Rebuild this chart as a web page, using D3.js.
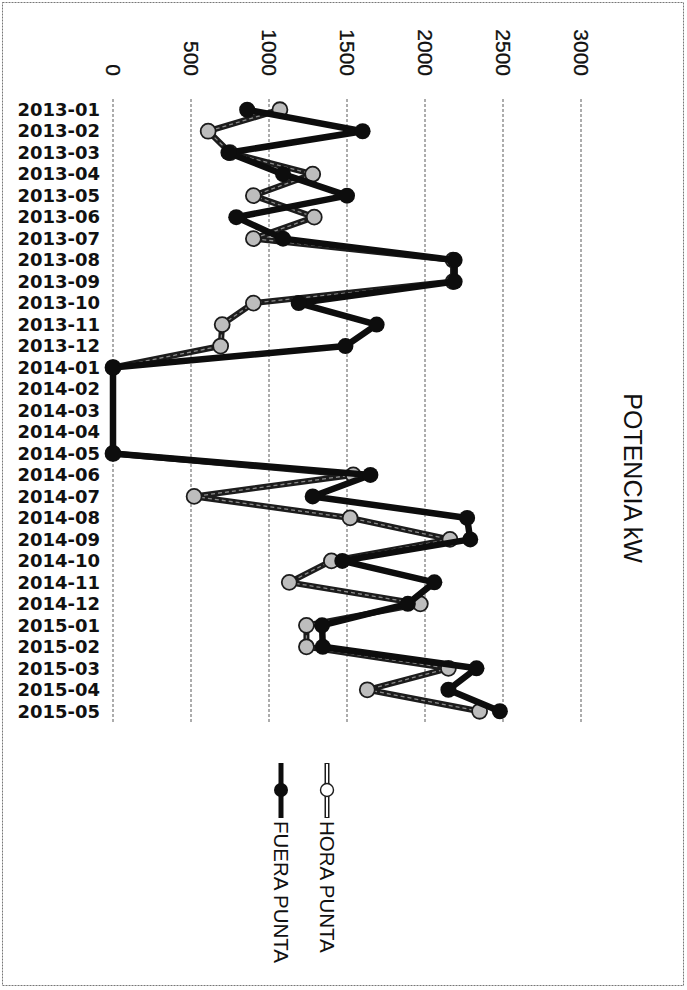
<!DOCTYPE html>
<html>
<head>
<meta charset="utf-8">
<script src="https://cdn.jsdelivr.net/npm/d3@7"></script>
<style>
  html, body { margin: 0; padding: 0; background: #fff; }
  svg { display: block; }
  text { font-family: "Liberation Sans", Arial, sans-serif; fill: #111; }
</style>
</head>
<body>
<svg id="chart" width="687" height="990"></svg>
<script>
// Monthly demand (kW), peak and off-peak; Feb–Apr 2014 have no readings.
const months = [
  "2013-01","2013-02","2013-03","2013-04","2013-05","2013-06","2013-07","2013-08",
  "2013-09","2013-10","2013-11","2013-12","2014-01","2014-02","2014-03","2014-04",
  "2014-05","2014-06","2014-07","2014-08","2014-09","2014-10","2014-11","2014-12",
  "2015-01","2015-02","2015-03","2015-04","2015-05"
];
const horaPunta = [
  1070, 610, 750, 1280, 900, 1290, 900, 2180,
  2180, 900, 700, 690, 0, null, null, null,
  0, 1540, 520, 1520, 2160, 1400, 1130, 1970,
  1240, 1240, 2150, 1630, 2350
];
const fueraPunta = [
  860, 1600, 740, 1090, 1500, 790, 1090, 2190,
  2190, 1190, 1690, 1490, 0, null, null, null,
  0, 1650, 1280, 2270, 2290, 1470, 2060, 1890,
  1340, 1345, 2330, 2150, 2480
];
const valueTicks = [0, 500, 1000, 1500, 2000, 2500, 3000];
const seriesNames = ["HORA PUNTA", "FUERA PUNTA"];
const titleText = "POTENCIA kW";

const svg = d3.select("#chart");

// Frame
svg.append("rect")
  .attr("x", 2.5).attr("y", 2.5).attr("width", 681).attr("height", 983)
  .attr("fill", "none").attr("stroke", "#777").attr("stroke-width", 1)
  .attr("stroke-dasharray", "2,1");

// Scales: values run left→right, months top→bottom
const x = d3.scaleLinear().domain([0, 3000]).range([113, 581]);
const y = d3.scalePoint().domain(months).range([99, 722]).padding(0.5);

// Gridlines
svg.append("g").selectAll("line")
  .data(valueTicks)
  .join("line")
  .attr("x1", d => x(d)).attr("x2", d => x(d))
  .attr("y1", 99).attr("y2", 722)
  .attr("stroke", "#5a5a5a").attr("stroke-width", 1)
  .attr("stroke-dasharray", "3,2");

// Value axis (labels rotated)
const xAxis = svg.append("g")
  .attr("transform", "translate(0,76)")
  .call(d3.axisTop(x).tickValues(valueTicks).tickSize(0).tickPadding(0).tickFormat(d3.format("d")));
xAxis.select(".domain").remove();
xAxis.selectAll("text")
  .attr("x", 0).attr("y", 0).attr("dy", null)
  .attr("transform", "rotate(90)")
  .attr("text-anchor", "end")
  .attr("dominant-baseline", "central")
  .style("font-size", "21px")
  .style("font-family", "'Liberation Sans', Arial, sans-serif")
  .style("fill", "#111")
  .style("stroke", "#111").style("stroke-width", "0.3px");

// Category axis
const yAxis = svg.append("g")
  .attr("transform", "translate(113,0)")
  .call(d3.axisLeft(y).tickSize(0).tickPadding(13));
yAxis.select(".domain").remove();
yAxis.selectAll("text")
  .style("font-size", "18px")
  .style("font-family", "'DejaVu Sans', sans-serif")
  .style("font-weight", "bold")
  .style("fill", "#111");

// Series
const toPoints = vals => months.map((m, i) => ({ m, v: vals[i] })).filter(d => d.v !== null);
const line = d3.line().x(d => x(d.v)).y(d => y(d.m));

const hp = toPoints(horaPunta);
const fp = toPoints(fueraPunta);

// Peak-hour series: pale line with dark edges
svg.append("path").datum(hp)
  .attr("d", line).attr("fill", "none")
  .attr("stroke", "#1c1c1c").attr("stroke-width", 6).attr("stroke-linejoin", "round");
svg.append("path").datum(hp)
  .attr("d", line).attr("fill", "none")
  .attr("stroke", "#8a8a8a").attr("stroke-width", 1.3).attr("stroke-linejoin", "round")
  .attr("stroke-dasharray", "4,3");
svg.append("g").selectAll("circle")
  .data(hp).join("circle")
  .attr("cx", d => x(d.v)).attr("cy", d => y(d.m)).attr("r", 7.5)
  .attr("fill", "#bdbdbd").attr("stroke", "#1c1c1c").attr("stroke-width", 1.8);

// Off-peak series: solid black
svg.append("path").datum(fp)
  .attr("d", line).attr("fill", "none")
  .attr("stroke", "#0d0d0d").attr("stroke-width", 6.5).attr("stroke-linejoin", "round");
svg.append("g").selectAll("circle")
  .data(fp).join("circle")
  .attr("cx", d => x(d.v)).attr("cy", d => y(d.m)).attr("r", 8)
  .attr("fill", "#0d0d0d");

// Title
svg.append("text")
  .attr("transform", "translate(633,478) rotate(90)")
  .attr("text-anchor", "middle").attr("dominant-baseline", "central")
  .style("font-size", "25px")
  .text(titleText);

// Legend
const legendX = [327, 281];
seriesNames.forEach((name, i) => {
  const lx = legendX[i];
  const g = svg.append("g");
  if (i === 0) {
    g.append("line").attr("x1", lx).attr("x2", lx).attr("y1", 763).attr("y2", 818)
      .attr("stroke", "#1c1c1c").attr("stroke-width", 5);
    g.append("line").attr("x1", lx).attr("x2", lx).attr("y1", 764).attr("y2", 817)
      .attr("stroke", "#fff").attr("stroke-width", 2);
    g.append("circle").attr("cx", lx).attr("cy", 790).attr("r", 6.5)
      .attr("fill", "#fff").attr("stroke", "#1c1c1c").attr("stroke-width", 1.4);
  } else {
    g.append("line").attr("x1", lx).attr("x2", lx).attr("y1", 763).attr("y2", 818)
      .attr("stroke", "#0d0d0d").attr("stroke-width", 5);
    g.append("circle").attr("cx", lx).attr("cy", 790).attr("r", 7).attr("fill", "#0d0d0d");
  }
  g.append("text")
    .attr("transform", `translate(${lx},821) rotate(90)`)
    .attr("text-anchor", "start").attr("dominant-baseline", "central")
    .style("font-size", "20.5px")
    .text(name);
});
</script>
</body>
</html>
